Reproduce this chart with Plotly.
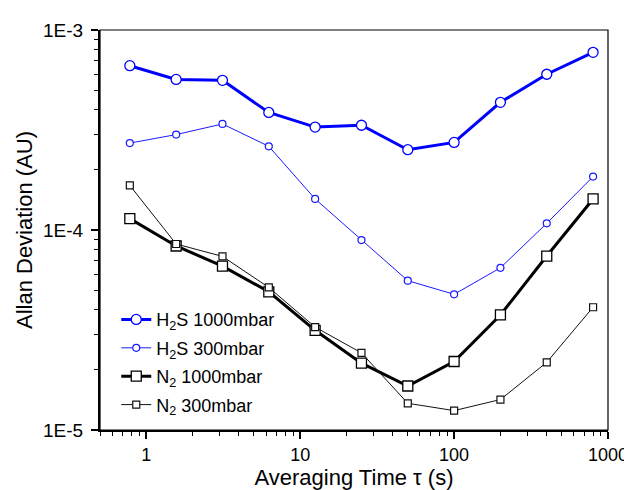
import plotly.graph_objects as go

tau = [0.78125, 1.5625, 3.125, 6.25, 12.5, 25, 50, 100, 200, 400, 800]
h2s_1000 = [6.63e-4, 5.66e-4, 5.60e-4, 3.87e-4, 3.27e-4, 3.34e-4, 2.52e-4, 2.74e-4, 4.35e-4, 6.01e-4, 7.73e-4]
h2s_300 = [2.72e-4, 3.00e-4, 3.39e-4, 2.62e-4, 1.43e-4, 8.9e-5, 5.58e-5, 4.77e-5, 6.47e-5, 1.08e-4, 1.85e-4]
n2_1000 = [1.14e-4, 8.32e-5, 6.6e-5, 4.91e-5, 3.15e-5, 2.16e-5, 1.66e-5, 2.2e-5, 3.76e-5, 7.41e-5, 1.43e-4]
n2_300 = [1.67e-4, 8.51e-5, 7.38e-5, 5.16e-5, 3.27e-5, 2.43e-5, 1.36e-5, 1.25e-5, 1.42e-5, 2.18e-5, 4.11e-5]

names = ["H<sub>2</sub>S 1000mbar", "H<sub>2</sub>S 300mbar", "N<sub>2</sub> 1000mbar", "N<sub>2</sub> 300mbar"]
x_tickvals = [1, 10, 100, 1000]
x_ticktext = ["1", "10", "100", "1000"]
y_tickvals = [1e-5, 1e-4, 1e-3]
y_ticktext = ["1E-5", "1E-4", "1E-3"]

x_minor = [m * 10 ** k for k in range(-1, 3) for m in range(2, 10)]
y_minor = [m * 10 ** k for k in range(-5, -3) for m in range(2, 10)]

FONT = "Liberation Sans, Arial, sans-serif"

fig = go.Figure()
styles = [
    (h2s_1000, "#0000ff", 3, "circle", 10, 1.3),
    (h2s_300, "#1a1aff", 1, "circle", 7, 1.2),
    (n2_1000, "#000000", 3, "square", 10, 1.3),
    (n2_300, "#111111", 1, "square", 7, 1.2),
]
for i, ((vals, col, lw, sym, ms, mlw), name) in enumerate(zip(styles, names)):
    fig.add_trace(go.Scatter(
        x=tau, y=vals, name=name, mode="lines+markers", legendgroup=f"g{i}",
        line=dict(color=col, width=lw),
        marker=dict(symbol=sym, size=ms, color="white", line=dict(color=col, width=mlw)),
    ))

fig.update_layout(
    width=632, height=490,
    margin=dict(l=92, r=25, t=22, b=61),
    paper_bgcolor="white", plot_bgcolor="white",
    font=dict(family=FONT, size=15, color="black"),
    showlegend=True,
    legend=dict(x=0.032, y=0.322, xanchor="left", yanchor="top",
                bgcolor="rgba(0,0,0,0)", font=dict(family=FONT, size=18),
                tracegroupgap=2, itemwidth=30),
)
fig.update_xaxes(
    type="log", range=[-0.30103, 3],
    tickvals=x_tickvals, ticktext=x_ticktext,
    ticks="outside", ticklen=7, tickwidth=1.5, tickcolor="black",
    minor=dict(ticks="outside", tickmode="array", tickvals=x_minor, ticklen=4,
               tickwidth=1, tickcolor="black", showgrid=False),
    showline=True, linewidth=2, linecolor="black", mirror=False,
    showgrid=False, zeroline=False,
    title=dict(text="Averaging Time τ (s)", font=dict(size=22), standoff=6),
    tickfont=dict(size=18),
)
fig.update_yaxes(
    type="log", range=[-5, -3],
    tickvals=y_tickvals, ticktext=y_ticktext,
    ticks="outside", ticklen=7, tickwidth=1.5, tickcolor="black",
    minor=dict(ticks="outside", tickmode="array", tickvals=y_minor, ticklen=4,
               tickwidth=1, tickcolor="black", showgrid=False),
    showline=True, linewidth=2, linecolor="black", mirror=False,
    showgrid=False, zeroline=False,
    ticklabelstandoff=4,
    title=dict(text="Allan Deviation (AU)", font=dict(size=22), standoff=4),
    tickfont=dict(size=19),
)
fig.add_shape(type="rect", xref="paper", yref="paper", x0=0, y0=0, x1=1, y1=1,
              line=dict(color="black", width=1.2), layer="above")

fig.write_html("out.html")
